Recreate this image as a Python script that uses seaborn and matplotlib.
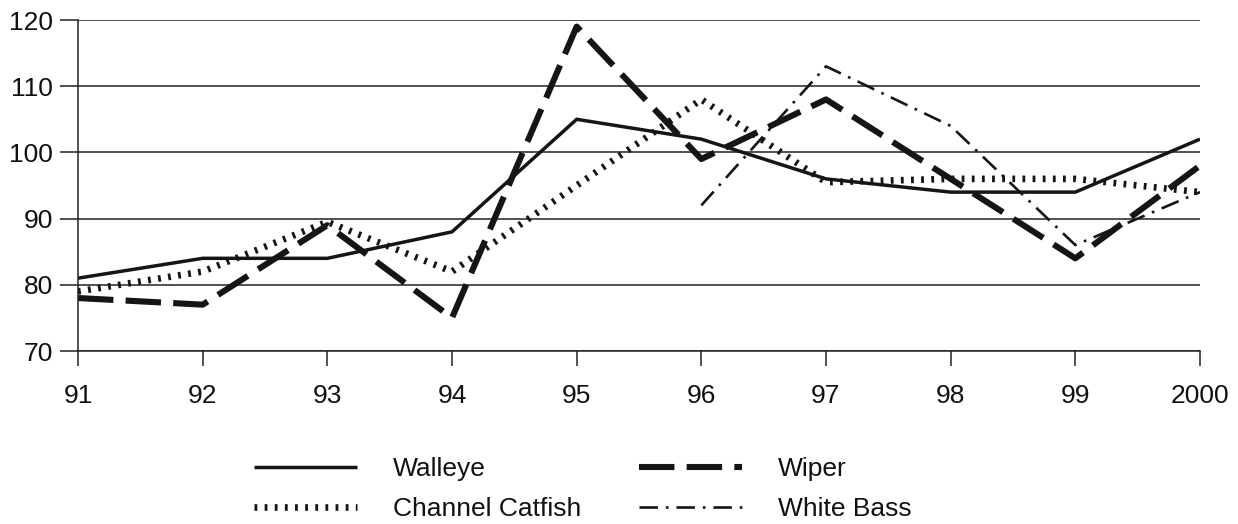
import matplotlib
matplotlib.use("Agg")
import matplotlib.pyplot as plt
import seaborn as sns
import pandas as pd
from matplotlib.lines import Line2D

years = [1991, 1992, 1993, 1994, 1995, 1996, 1997, 1998, 1999, 2000]
year_labels = ["91", "92", "93", "94", "95", "96", "97", "98", "99", "2000"]
walleye = [81, 84, 84, 88, 105, 102, 96, 94, 94, 102]
wiper = [78, 77, 89, 75, 119, 99, 108, 96, 84, 98]
catfish = [79, 82, 89.5, 82, 95, 108, 95.5, 96, 96, 94]
white_bass_years = [1996, 1997, 1998, 1999, 2000]
white_bass = [92, 113, 104, 86, 94]
series_names = ["Walleye", "Wiper", "Channel Catfish", "White Bass"]

rows = []
for name, ys, vs in [("Walleye", years, walleye), ("Wiper", years, wiper),
                     ("Channel Catfish", years, catfish),
                     ("White Bass", white_bass_years, white_bass)]:
    for y, v in zip(ys, vs):
        rows.append({"year": y, "value": v, "series": name})
df = pd.DataFrame(rows)

sns.set_theme(style="white")
plt.rcParams["font.family"] = ["Liberation Sans", "DejaVu Sans"]

fig = plt.figure(figsize=(12.38, 5.24), dpi=100)
ax = fig.add_axes([78 / 1238, 1 - 351 / 524, (1200 - 78) / 1238, (351 - 20) / 524])

styles = {
    "Walleye": dict(lw=2.5, dashes=None),
    "Wiper": dict(lw=4.4, dashes=(5.8, 2.0)),
    "Channel Catfish": dict(lw=4.8, dashes=(0.42, 1.1)),
    "White Bass": dict(lw=1.9, dashes=(7.0, 3.0, 1.0, 3.0)),
}

handles = {}
for name in series_names:
    sub = df[df["series"] == name]
    n_before = len(ax.lines)
    sns.lineplot(data=sub, x="year", y="value", ax=ax, color="#151515",
                 linewidth=styles[name]["lw"], legend=False)
    line = ax.lines[n_before]
    if styles[name]["dashes"] is not None:
        line.set_dashes(styles[name]["dashes"])
    line.set_dash_capstyle("butt")
    line.set_solid_capstyle("butt")
    line.set_solid_joinstyle("miter")
    handles[name] = line

ax.set_xlim(1991, 2000)
ax.set_ylim(70, 120)
ax.set_xticks(years)
ax.set_xticklabels(year_labels)
ax.set_yticks([70, 80, 90, 100, 110, 120])
ax.set_xlabel("")
ax.set_ylabel("")
ax.grid(axis="y", color="#222222", linewidth=1.1)
ax.set_axisbelow(True)
for s in ["top", "right"]:
    ax.spines[s].set_visible(False)
for s in ["left", "bottom"]:
    ax.spines[s].set_color("#222222")
    ax.spines[s].set_linewidth(1.1)
ax.tick_params(axis="x", direction="out", length=11, width=1.1, color="#222222",
               labelsize=19, pad=13, bottom=True, labelcolor="#111111")
ax.tick_params(axis="y", direction="out", length=13, width=1.1, color="#222222",
               labelsize=19, pad=5, left=True, labelcolor="#111111")

order = ["Walleye", "Channel Catfish", "Wiper", "White Bass"]
leg_handles = []
for name in order:
    l = handles[name]
    h = Line2D([], [], color=l.get_color(), linewidth=l.get_linewidth())
    if styles[name]["dashes"] is not None:
        h.set_dashes(styles[name]["dashes"])
    h.set_dash_capstyle("butt")
    h.set_solid_capstyle("butt")
    leg_handles.append(h)
leg = fig.legend(leg_handles, order, ncol=2, loc="center",
                 bbox_to_anchor=(583 / 1238, 1 - 489 / 524), frameon=False,
                 fontsize=19, handlelength=3.9, handletextpad=1.35,
                 columnspacing=2.2, labelspacing=0.62)
for t in leg.get_texts():
    t.set_color("#111111")

fig.savefig("out.png", dpi=100, facecolor="white")
